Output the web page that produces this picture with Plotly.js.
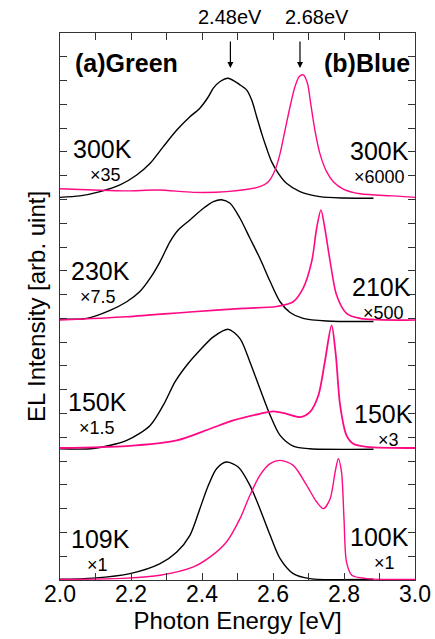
<!DOCTYPE html>
<html>
<head>
<meta charset="utf-8">
<script src="https://cdn.plot.ly/plotly-3.0.1.min.js"></script>
<style>html,body{margin:0;padding:0;background:#fff;}#chart{width:435px;height:639px;}</style>
</head>
<body>
<div id="chart"></div>
<script>
// Photon energy (eV) and stacked EL intensity (arb. units, offset per temperature)
var green300x = [2.0, 2.056, 2.113, 2.169, 2.216, 2.254, 2.291, 2.329, 2.366, 2.394, 2.418, 2.432, 2.451, 2.474, 2.507, 2.526, 2.540, 2.554, 2.568, 2.582, 2.596, 2.615, 2.638, 2.676, 2.732, 2.80, 2.883];
var green300y = [16.09, 16.15, 16.33, 16.61, 17.03, 17.52, 18.22, 18.92, 19.48, 19.84, 20.32, 20.68, 20.96, 21.10, 20.82, 20.60, 20.18, 19.48, 18.78, 18.15, 17.59, 17.10, 16.68, 16.33, 16.12, 16.06, 16.05];

var blue300x = [2.0, 2.094, 2.188, 2.277, 2.376, 2.469, 2.563, 2.587, 2.606, 2.620, 2.634, 2.648, 2.662, 2.674, 2.685, 2.697, 2.706, 2.718, 2.732, 2.751, 2.770, 2.798, 2.845, 2.939, 3.0];
var blue300y = [16.45, 16.40, 16.36, 16.40, 16.30, 16.33, 16.54, 16.75, 17.24, 17.94, 18.92, 19.90, 20.75, 21.17, 21.24, 20.89, 20.05, 18.92, 17.94, 17.17, 16.75, 16.44, 16.24, 16.15, 16.09];

var green230x = [2.0, 2.075, 2.141, 2.188, 2.225, 2.254, 2.282, 2.310, 2.333, 2.366, 2.404, 2.432, 2.455, 2.479, 2.507, 2.535, 2.563, 2.592, 2.620, 2.648, 2.685, 2.751, 2.883];
var green230y = [10.97, 11.00, 11.34, 11.70, 12.13, 12.69, 13.39, 14.23, 14.72, 15.14, 15.63, 15.91, 15.99, 15.84, 15.21, 14.37, 13.53, 12.55, 11.70, 11.25, 11.00, 10.89, 10.87];

var blue210x = [2.0, 2.188, 2.376, 2.516, 2.610, 2.657, 2.685, 2.709, 2.723, 2.735, 2.746, 2.761, 2.779, 2.807, 2.845, 3.0];
var blue210y = [10.93, 11.07, 11.28, 11.42, 11.50, 11.70, 12.27, 13.39, 14.79, 15.56, 14.79, 13.39, 11.98, 11.21, 11.00, 10.93];

var green150x = [2.0, 2.094, 2.188, 2.254, 2.291, 2.324, 2.357, 2.394, 2.432, 2.474, 2.507, 2.535, 2.563, 2.592, 2.620, 2.657, 2.704, 2.883];
var green150y = [5.52, 5.53, 5.87, 6.50, 7.35, 8.33, 9.03, 9.66, 10.22, 10.54, 10.15, 9.17, 8.05, 6.93, 6.08, 5.63, 5.52, 5.50];

var blue150x = [2.0, 2.188, 2.329, 2.423, 2.488, 2.563, 2.601, 2.638, 2.676, 2.704, 2.728, 2.746, 2.765, 2.777, 2.789, 2.807, 2.826, 2.864, 3.0];
var blue150y = [5.55, 5.63, 5.87, 6.36, 6.71, 6.99, 7.09, 6.99, 6.85, 7.06, 7.77, 9.17, 10.71, 9.45, 7.35, 6.08, 5.73, 5.60, 5.55];

var green109x = [2.0, 2.094, 2.197, 2.282, 2.329, 2.366, 2.394, 2.418, 2.441, 2.469, 2.502, 2.535, 2.563, 2.592, 2.620, 2.657, 2.704, 2.883];
var green109y = [0.03, 0.08, 0.27, 0.69, 1.18, 1.88, 3.00, 3.98, 4.68, 4.96, 4.75, 3.98, 3.00, 1.88, 0.90, 0.27, 0.06, 0.03];

var blue100x = [2.0, 2.188, 2.282, 2.376, 2.423, 2.469, 2.507, 2.535, 2.563, 2.592, 2.620, 2.657, 2.695, 2.723, 2.742, 2.761, 2.775, 2.784, 2.793, 2.800, 2.807, 2.822, 2.864, 3.0];
var blue100y = [0.02, 0.08, 0.20, 0.55, 0.97, 1.60, 2.58, 3.56, 4.40, 4.89, 5.03, 4.82, 3.98, 3.28, 3.00, 3.42, 4.54, 5.10, 4.54, 2.58, 0.76, 0.20, 0.06, 0.02];

var tempLabelsLeft = ['300K', '230K', '150K', '109K'];
var factorLabelsLeft = ['\u00d735', '\u00d77.5', '\u00d71.5', '\u00d71'];
var tempLabelsRight = ['300K', '210K', '150K', '100K'];
var factorLabelsRight = ['\u00d76000', '\u00d7500', '\u00d73', '\u00d71'];
var peakEnergies = [2.48, 2.676];
var peakLabels = ['2.48eV', '2.68eV'];

var BLACK = '#000000';
var PINK = '#ff0a84';
var FONT = 'Liberation Sans, Arial, Helvetica, sans-serif';

function tr(x, y, color, w) {
  return {x: x, y: y, type: 'scatter', mode: 'lines',
          line: {color: color, width: w, shape: 'spline', smoothing: 0.8},
          hoverinfo: 'skip', showlegend: false};
}

var data = [
  tr(green300x, green300y, BLACK, 1.4),
  tr(blue300x, blue300y, PINK, 1.4),
  tr(green230x, green230y, BLACK, 1.4),
  tr(blue210x, blue210y, PINK, 1.6),
  tr(green150x, green150y, BLACK, 1.4),
  tr(blue150x, blue150y, PINK, 1.8),
  tr(green109x, green109y, BLACK, 1.4),
  tr(blue100x, blue100y, PINK, 1.4)
];

// label layout: [x of temperature label, x of factor label, y of boundary between them]
var leftLab = [[2.121, 2.128, 17.49], [2.113, 2.107, 12.38], [2.107, 2.104, 6.85], [2.115, 2.107, 1.09]];
var rightLab = [[2.901, 2.900, 17.39], [2.907, 2.911, 11.71], [2.910, 2.925, 6.35], [2.901, 2.915, 1.18]];

var ann = [];
function txt(t, x, y, size, bold, yanchor, yref) {
  ann.push({x: x, y: y, xref: 'x', yref: yref || 'y', text: bold ? '<b>' + t + '</b>' : t,
            showarrow: false, xanchor: 'center', yanchor: yanchor || 'middle', borderpad: 0,
            font: {family: FONT, size: size, color: '#000'}});
}
for (var i = 0; i < 4; i++) {
  txt(tempLabelsLeft[i], leftLab[i][0], leftLab[i][2], 25, false, 'bottom');
  txt(factorLabelsLeft[i], leftLab[i][1], leftLab[i][2], 18, false, 'top');
  txt(tempLabelsRight[i], rightLab[i][0], rightLab[i][2], 25, false, 'bottom');
  txt(factorLabelsRight[i], rightLab[i][1], rightLab[i][2], 18, false, 'top');
}
txt('(a)Green', 2.187, 21.74, 25, true);
txt('(b)Blue', 2.866, 21.74, 25, true);
txt(peakLabels[0], 2.479, 1.029, 20, false, 'middle', 'paper');
txt(peakLabels[1], 2.725, 1.029, 20, false, 'middle', 'paper');
for (var k = 0; k < peakEnergies.length; k++) {
  ann.push({x: peakEnergies[k], y: 21.53, ax: peakEnergies[k], ay: 22.71,
            xref: 'x', yref: 'y', axref: 'x', ayref: 'y', text: '',
            showarrow: true, arrowhead: 2, arrowsize: 1, arrowwidth: 1.2, arrowcolor: '#000'});
}

var layout = {
  width: 435, height: 639,
  margin: {l: 60, r: 20, t: 33, b: 59},
  paper_bgcolor: '#fff', plot_bgcolor: '#fff',
  font: {family: FONT, color: '#000'},
  xaxis: {
    range: [2.0, 3.0], dtick: 0.2, tick0: 2.0, tickformat: '.1f',
    ticks: 'inside', ticklen: 7, tickwidth: 1, tickcolor: '#333',
    minor: {dtick: 0.1, ticks: 'inside', ticklen: 7, tickcolor: '#333'},
    showline: true, linecolor: '#333', linewidth: 1, mirror: 'allticks',
    showgrid: false, zeroline: false,
    ticklabelstandoff: -7,
    tickfont: {family: FONT, size: 23, color: '#000'},
    title: {text: 'Photon Energy [eV]', font: {family: FONT, size: 24, color: '#000'}, standoff: 0},
    automargin: false
  },
  yaxis: {
    range: [0, 23], dtick: 1, tick0: 0,
    ticks: 'inside', ticklen: 7, tickwidth: 1, tickcolor: '#333',
    showticklabels: false,
    showline: true, linecolor: '#333', linewidth: 1, mirror: 'allticks',
    showgrid: false, zeroline: false,
    title: {text: 'EL Intensity [arb. uint]', font: {family: FONT, size: 24, color: '#000'}, standoff: 6},
    automargin: false
  },
  annotations: ann
};

Plotly.newPlot('chart', data, layout, {staticPlot: true, displayModeBar: false});
</script>
</body>
</html>
